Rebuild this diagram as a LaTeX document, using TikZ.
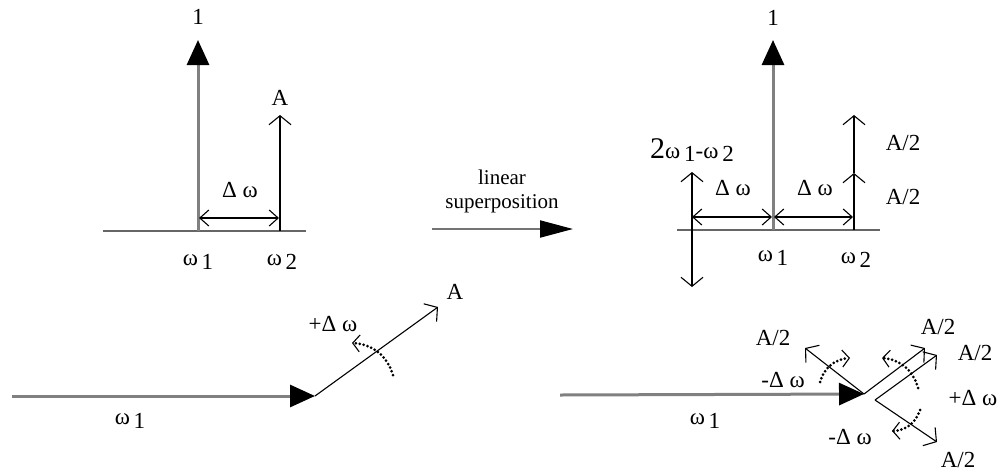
\documentclass[tikz,border=0pt]{standalone}
\usepackage{fontspec}
\setmainfont{Liberation Serif}
\usetikzlibrary{arrows.meta,positioning}
\newcommand{\ix}[1]{\raisebox{-0.35ex}{#1}}
\begin{document}
\begin{tikzpicture}[
    x=1pt, y=-1pt,
    every node/.style={font=\fontsize{23}{25}\selectfont, inner sep=0pt},
    axis/.style={line width=1.6pt, draw=black!60},
    carrier/.style={line width=3pt, draw=black!50, -{Triangle[length=25pt,width=22pt,color=black]}},
    side/.style={line width=1.1pt, -{Straight Barb[length=9pt,width=22pt]}},
    gap/.style={line width=1.1pt, {Straight Barb[length=9pt,width=16pt]}-{Straight Barb[length=9pt,width=16pt]}},
    both/.style={line width=1.1pt, {Straight Barb[length=9pt,width=22pt]}-{Straight Barb[length=9pt,width=22pt]}},
    spin/.style={line width=3pt, dash pattern=on 0pt off 4pt, line cap=round,
                 -{Straight Barb[length=7pt,width=17pt,line width=1.1pt]}},
    mapto/.style={line width=2pt, draw=black!55, -{Triangle[length=33pt,width=17pt,color=black]}}
  ]
  \useasboundingbox (0,0) rectangle (1006,472);

  % spectrum before
  \coordinate (la) at (103,231);
  \coordinate (lb) at (306,231);
  \coordinate (lw1) at (198,231);
  \coordinate (lw1t) at (198,40);
  \coordinate (lw2) at (280,231);
  \coordinate (lw2t) at (280,115);
  \coordinate (lga) at (199,218);
  \coordinate (lgb) at (279,218);
  \draw[axis] (la) -- (lb);
  \draw[carrier] (lw1) -- (lw1t);
  \draw[side] (lw2) -- (lw2t);
  \draw[gap] (lga) -- (lgb);
  \node (lone) at (198,17) {1};
  \node (lamp) at (280,98) {A};
  \node (ldw) at (240,190) {Δ ω};
  \node (lf1) at (198,262) {ω\,\ix{1}};
  \node (lf2) at (282,262) {ω\,\ix{2}};

  % transition
  \coordinate (ma) at (432,229);
  \coordinate (mb) at (573,229);
  \draw[mapto] (ma) -- (mb);
  \node[align=center, font=\fontsize{21}{24}\selectfont] (mtxt) at (502,191) {linear\\superposition};

  % spectrum after
  \coordinate (ra) at (677,230);
  \coordinate (rb) at (880,230);
  \coordinate (rw1) at (773,230);
  \coordinate (rw1t) at (773,40);
  \coordinate (rw2) at (854,230);
  \coordinate (rw2m) at (854,173);
  \coordinate (rw2t) at (854,115);
  \coordinate (rw0t) at (692,172);
  \coordinate (rw0b) at (692,287);
  \coordinate (rga) at (692,217);
  \coordinate (rgb) at (772,217);
  \coordinate (rgc) at (774,217);
  \coordinate (rgd) at (853,217);
  \draw[axis] (ra) -- (rb);
  \draw[carrier] (rw1) -- (rw1t);
  \draw[side] (rw2) -- (rw2m);
  \draw[side] (rw2m) -- (rw2t);
  \draw[both] (rw0t) -- (rw0b);
  \draw[gap] (rga) -- (rgb);
  \draw[gap] (rgc) -- (rgd);
  \node (rone) at (773,18) {1};
  \node (ramp1) at (903,143) {A/2};
  \node (ramp2) at (903,197) {A/2};
  \node (rmix) at (692,150) {{\fontsize{30}{32}\selectfont 2}ω\,\ix{1}-ω\,\ix{2}};
  \node (rdw1) at (733,188) {Δ ω};
  \node (rdw2) at (815,188) {Δ ω};
  \node (rf1) at (773,258) {ω\,\ix{1}};
  \node (rf2) at (856,260) {ω\,\ix{2}};

  % phasor before
  \coordinate (pa) at (12,396);
  \coordinate (po) at (315,396);
  \coordinate (pt) at (438,307);
  \coordinate (psa) at (393,375);
  \coordinate (psb) at (352,343);
  \draw[carrier] (pa) -- (po);
  \draw[side] (po) -- (pt);
  \draw[spin] (psa) to[bend right=35] (psb);
  \node (pf1) at (130,421) {ω\,\ix{1}};
  \node (pamp) at (455,292) {A};
  \node (pdw) at (333,324) {+Δ ω};

  % phasor after
  \coordinate (qa) at (560,395);
  \coordinate (qo) at (864,394);
  \coordinate (qul) at (805,348);
  \coordinate (qur) at (925,348);
  \coordinate (qv) at (875,400);
  \coordinate (qvu) at (937,355);
  \coordinate (qvd) at (937,442);
  \coordinate (qs1a) at (820,382);
  \coordinate (qs1b) at (850,358);
  \coordinate (qs2a) at (918,388);
  \coordinate (qs2b) at (882,358);
  \coordinate (qs3a) at (920,410);
  \coordinate (qs3b) at (892,431);
  \draw[carrier] (qa) -- (qo);
  \draw[side] (qo) -- (qul);
  \draw[side] (qo) -- (qur);
  \draw[side] (qv) -- (qvu);
  \draw[side] (qv) -- (qvd);
  \draw[spin] (qs1a) to[bend left=35] (qs1b);
  \draw[spin] (qs2a) to[bend right=35] (qs2b);
  \draw[spin] (qs3a) to[bend left=35] (qs3b);
  \node (qf1) at (705,421) {ω\,\ix{1}};
  \node (qamp1) at (773,338) {A/2};
  \node (qamp2) at (938,327) {A/2};
  \node (qamp3) at (975,353) {A/2};
  \node (qamp4) at (958,460) {A/2};
  \node (qdw1) at (783,380) {-Δ ω};
  \node (qdw2) at (973,398) {+Δ ω};
  \node (qdw3) at (850,437) {-Δ ω};
\end{tikzpicture}
\end{document}
